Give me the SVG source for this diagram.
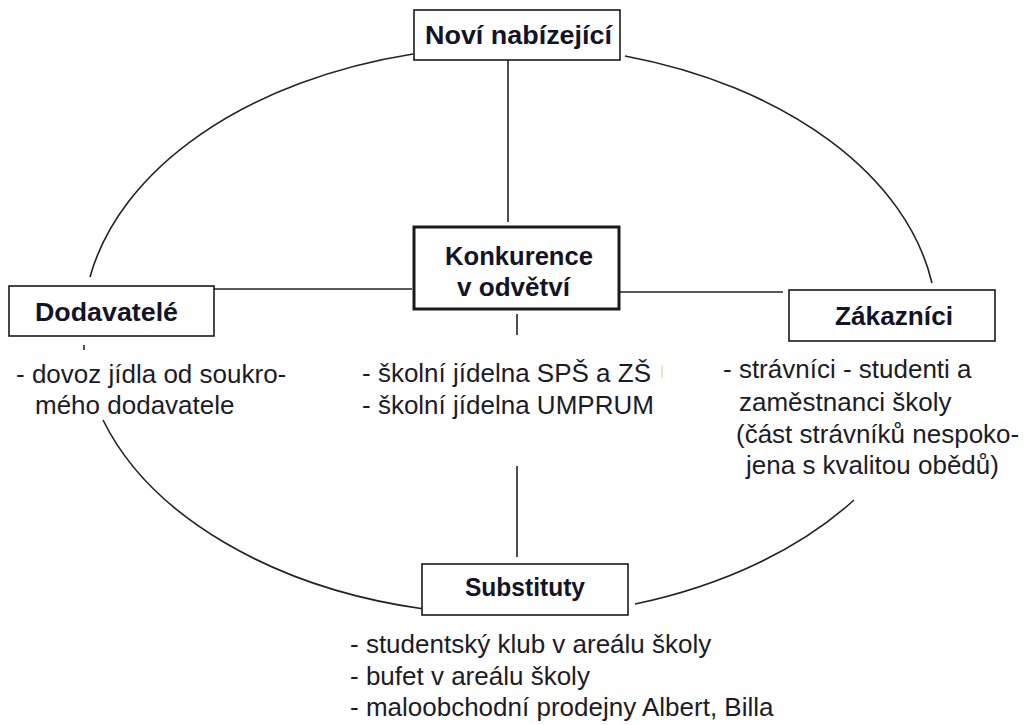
<svg xmlns="http://www.w3.org/2000/svg" width="1025" height="725" viewBox="0 0 1025 725">
<style>
.box{fill:#fff;stroke:#1a1a1a;stroke-width:1.6}
.thick{stroke-width:3}
.title{font-family:"Liberation Sans",Arial,sans-serif;font-weight:bold;font-size:26px;fill:#141428}
.body{font-family:"Liberation Sans",Arial,sans-serif;font-size:26px;fill:#1c1c28}
.ln{fill:none;stroke:#222;stroke-width:1.6}
</style>
<rect width="1025" height="725" fill="#fff"/>
<g id="connectors">
<path class="ln" d="M90,277 A432,281 0 0 1 413,54"/>
<path class="ln" d="M625,56 A432,281 0 0 1 932,283"/>
<path class="ln" d="M854,500 A432,281 0 0 1 635,604"/>
<path class="ln" d="M103,420 A432,281 0 0 0 424,609"/>
<line class="ln" x1="508" y1="60" x2="508" y2="222"/>
<line class="ln" x1="214" y1="289" x2="412" y2="289"/>
<line class="ln" x1="620" y1="292" x2="783" y2="292"/>
<line class="ln" x1="517" y1="314" x2="517" y2="335"/>
<line class="ln" x1="517" y1="466" x2="517" y2="557"/>
<line class="ln" x1="84" y1="345" x2="84" y2="350"/>
<line x1="662" y1="365" x2="662" y2="378" stroke="#f3d9a8" stroke-width="1.5"/>
</g>
<g id="novi">
<rect class="box" x="414" y="10" width="206" height="50"/>
<text class="title" x="425" y="44" textLength="187" lengthAdjust="spacingAndGlyphs">Noví nabízející</text>
</g>
<g id="konkurence">
<rect class="box thick" x="414" y="227" width="205" height="82"/>
<text class="title" x="445" y="265" textLength="148" lengthAdjust="spacingAndGlyphs">Konkurence</text>
<text class="title" x="457" y="296" textLength="113" lengthAdjust="spacingAndGlyphs">v odvětví</text>
<text class="body" x="362" y="382">- školní jídelna SPŠ a ZŠ</text>
<text class="body" x="362" y="414">- školní jídelna UMPRUM</text>
</g>
<g id="dodavatele">
<rect class="box" x="9" y="286" width="205" height="50"/>
<text class="title" x="35" y="321" textLength="143" lengthAdjust="spacingAndGlyphs">Dodavatelé</text>
<text class="body" x="16" y="383">- dovoz jídla od soukro-</text>
<text class="body" x="35" y="414">mého dodavatele</text>
</g>
<g id="zakaznici">
<rect class="box" x="789" y="290" width="206" height="51"/>
<text class="title" x="835" y="325" textLength="118" lengthAdjust="spacingAndGlyphs">Zákazníci</text>
<text class="body" x="723" y="378">- strávníci - studenti a</text>
<text class="body" x="739" y="411">zaměstnanci školy</text>
<text class="body" x="736" y="443">(část strávníků nespoko-</text>
<text class="body" x="746" y="474">jena s kvalitou obědů)</text>
</g>
<g id="substituty">
<rect class="box" x="422" y="564" width="206" height="51"/>
<text class="title" x="465" y="596" textLength="120" lengthAdjust="spacingAndGlyphs">Substituty</text>
<text class="body" x="350" y="653">- studentský klub v areálu školy</text>
<text class="body" x="350" y="685">- bufet v areálu školy</text>
<text class="body" x="350" y="716">- maloobchodní prodejny Albert, Billa</text>
</g>
</svg>
